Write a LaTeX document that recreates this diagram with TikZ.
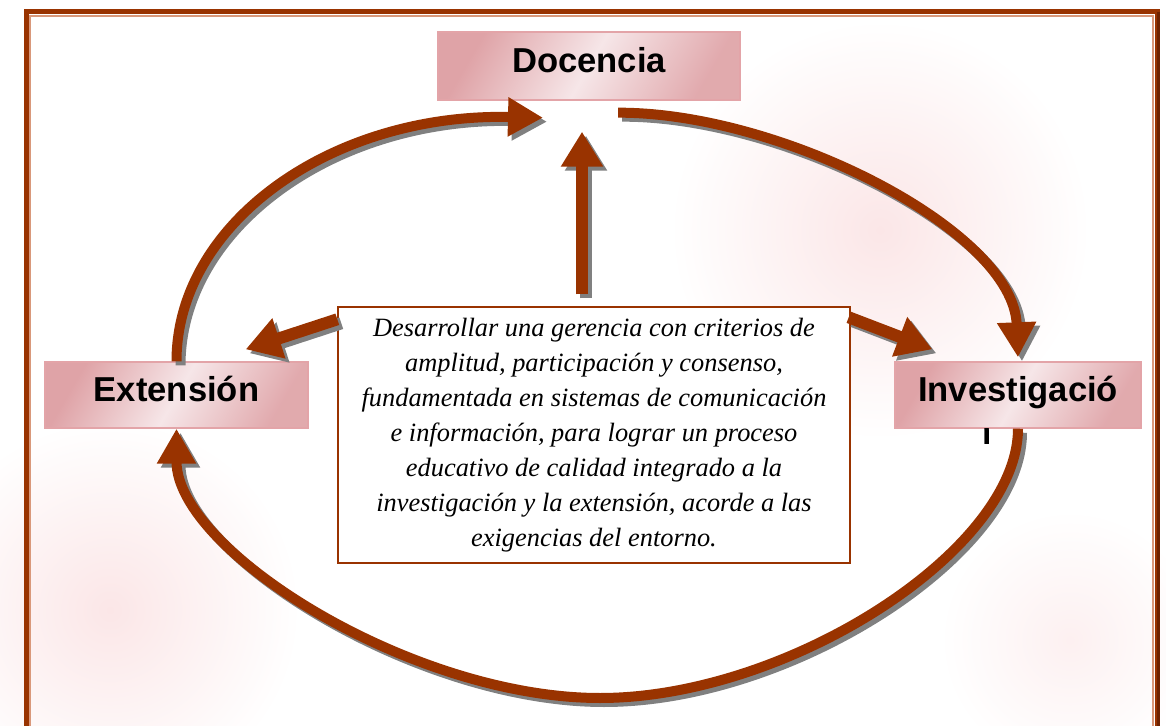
\documentclass[tikz,border=0pt]{standalone}
\usepackage{fontspec}
\setmainfont{Liberation Serif}
\setsansfont{Liberation Sans}
\usepackage{xcolor}
\usetikzlibrary{arrows.meta,calc}

\definecolor{rust}{HTML}{993300}
\definecolor{rustdark}{HTML}{6E2200}
\definecolor{rustlight}{HTML}{D9987A}
\definecolor{boxpink}{HTML}{DFA3A7}
\definecolor{boxpale}{HTML}{F6E6E8}
\definecolor{boxedge}{HTML}{E3A4A8}
\definecolor{blush}{HTML}{FBE6E7}
\definecolor{shadowgray}{HTML}{808080}

\begin{document}
\begin{tikzpicture}[
  x=0.5pt, y=-0.5pt,
  labelbox/.style={rectangle, draw=boxedge, line width=0.7pt, top color=boxpink, bottom color=boxpink!90!boxpale, middle color=boxpale, shading angle=60, font=\sffamily\bfseries\fontsize{17.3}{20}\selectfont, inner sep=0pt, text height=12.5pt, text depth=5.8pt},
  textbox/.style={rectangle, draw=rust, line width=0.7pt, fill=white, align=center, font=\itshape\fontsize{13.2}{17.5}\selectfont, minimum width=256pt, minimum height=128pt, inner sep=0pt},
  arc/.style={draw=rust, line width=5pt, -{Triangle[length=17.5pt, width=18.5pt]}, preaction={draw=shadowgray, line width=5pt, transform canvas={shift={(2pt,-2pt)}}}},
  spoke/.style={draw=rust, line width=6pt, -{Triangle[length=17.5pt, width=20pt]}, preaction={draw=shadowgray, line width=6pt, transform canvas={shift={(2pt,-2pt)}}}}
]
\useasboundingbox (0,0) rectangle (1166,726);

% faint background
\shade[inner color=blush, outer color=white] (880,230) circle[radius=210];
\shade[inner color=blush, outer color=white] (110,610) circle[radius=190];
\shade[inner color=blush!60, outer color=white] (1070,640) circle[radius=130];

% frame
\draw[rust, line width=2.5pt] (26,12) rectangle (1157,745);
\draw[rustlight, line width=0.8pt] (30,16) rectangle (1153,745);
\draw[rustdark, line width=1.5pt] (1158.5,12) -- (1158.5,745);

\node[labelbox, minimum width=151pt, minimum height=34pt] (doc) at (589,66) {Docencia};
\node[labelbox, minimum width=131.5pt, minimum height=33pt] (ext) at (176.5,395) {Extensión};
\node[labelbox, minimum width=123pt, minimum height=33pt] (inv) at (1018,395) {Investigació};
\node[textbox] (ctr) at (594,435) {Desarrollar una gerencia con criterios de\\
  amplitud, participación y consenso,\\
  fundamentada en sistemas de comunicación\\
  e información, para lograr un proceso\\
  educativo de calidad integrado a la\\
  investigación y la extensión, acorde a las\\
  exigencias del entorno.};

% wrapped letter, cut off under the box
\begin{scope}
  \clip (979,429) rectangle (988,444);
  \node[font=\sffamily\bfseries\fontsize{17.3}{20}\selectfont, anchor=base, inner sep=0pt] (invn) at (993,447) {n};
\end{scope}

% cycle
\draw[arc] (ext.north) .. controls ($(ext.north)+(0,-137)$) and (330,113) .. ($(doc.south)+(-46,17)$);
\draw[arc] ($(doc.south)+(29,12)$) .. controls (780,112) and (1013,230) .. ($(inv.north)+(0,-4)$);
\draw[arc] (inv.south) .. controls (1018,550) and (788,698) .. (600,698)
  .. controls (411,698) and (176.5,550) .. (ext.south);

% from the centre
\draw[spoke] ($(ctr.north)+(-12,-12)$) -- ($(doc.south)+(-7,31)$);
\draw[spoke] ($(ctr.north west)+(0,13)$) -- ($(ext.north east)+(-63,-12)$);
\draw[spoke] ($(ctr.north east)+(-2,11)$) -- ($(inv.north west)+(38,-12)$);

\end{tikzpicture}
\end{document}
